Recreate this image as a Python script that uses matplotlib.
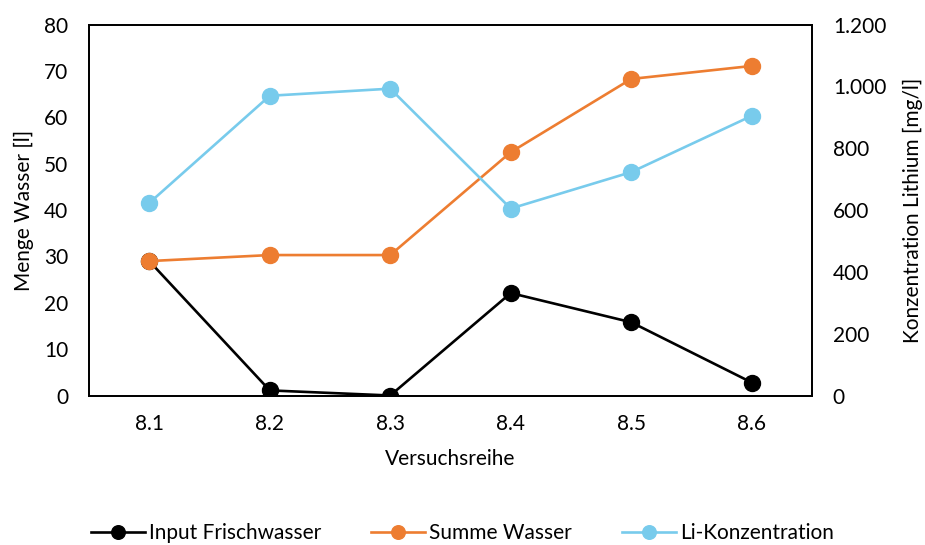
import matplotlib
matplotlib.use("Agg")
import matplotlib.pyplot as plt
from matplotlib.ticker import FuncFormatter

plt.rcParams['font.family'] = ['Lato', 'DejaVu Sans']

categories = ["8.1", "8.2", "8.3", "8.4", "8.5", "8.6"]
input_frischwasser = [29.0, 1.1, 0.0, 22.1, 15.8, 2.8]
summe_wasser = [29.0, 30.3, 30.3, 52.5, 68.3, 71.1]
li_konzentration = [623, 970, 993, 605, 723, 905]

fig = plt.figure(figsize=(9.25, 5.45), dpi=100)
ax = fig.add_axes([89 / 925, 1 - 395.5 / 545, (812 - 89) / 925, (395.5 - 24.7) / 545])
ax2 = ax.twinx()

x = list(range(len(categories)))
lw = 1.9
ms = 11.5
l1, = ax.plot(x, input_frischwasser, color='black', lw=lw, marker='o', ms=ms,
              label='Input Frischwasser', zorder=3)
l2, = ax.plot(x, summe_wasser, color='#ED7D31', lw=lw, marker='o', ms=ms,
              label='Summe Wasser', zorder=3)
l3, = ax2.plot(x, li_konzentration, color='#78CBEC', lw=lw, marker='o', ms=ms,
               label='Li-Konzentration', zorder=3)

ax.set_xlim(-0.5, 5.5)
ax.set_ylim(0, 80)
ax.set_yticks(range(0, 81, 10))
ax2.set_ylim(0, 1200)
ax2.set_yticks(range(0, 1201, 200))
ax2.yaxis.set_major_formatter(FuncFormatter(lambda v, p: f"{int(v):,}".replace(",", ".")))
ax.set_xticks(x)
ax.set_xticklabels(categories)

fs = 15
for a in (ax, ax2):
    a.tick_params(axis='y', length=0, labelsize=fs, pad=15)
    for s in a.spines.values():
        s.set_linewidth(1.3)
        s.set_color('black')
ax.tick_params(axis='x', length=0, labelsize=fs, pad=13)

ax.set_xlabel('Versuchsreihe', fontsize=fs, labelpad=11)
ax.set_ylabel('Menge Wasser [l]', fontsize=fs, labelpad=7)
ax2.set_ylabel('Konzentration Lithium [mg/l]', fontsize=fs, labelpad=12)

fig.legend(handles=[l1, l2, l3], loc='center', bbox_to_anchor=(0.5, 1 - 533 / 545),
           ncol=3, frameon=False, fontsize=fs, handlelength=2.6, columnspacing=2.4,
           handletextpad=0.2, markerscale=0.85)

fig.savefig('out.png', dpi=100)
